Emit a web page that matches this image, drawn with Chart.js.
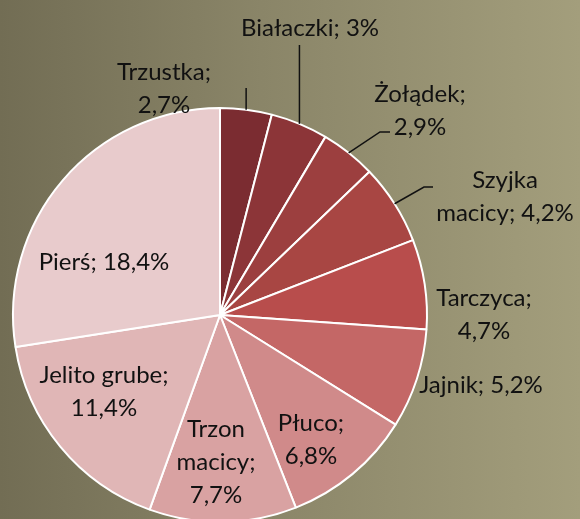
<!DOCTYPE html>
<html>
<head>
<meta charset="utf-8">
<script src="https://cdn.jsdelivr.net/npm/chart.js@4"></script>
<style>
  html, body { margin: 0; padding: 0; }
  body { width: 580px; height: 519px; overflow: hidden;
    background: linear-gradient(90deg, #726d54 0%, #8a8568 45%, #a39e7c 100%); }
  canvas { display: block; }
</style>
</head>
<body>
<canvas id="pie" width="580" height="519"></canvas>
<script>
const categories = ["Trzustka", "Białaczki", "Żołądek", "Szyjka macicy", "Tarczyca",
  "Jajnik", "Płuco", "Trzon macicy", "Jelito grube", "Pierś"];
const shares = [2.7, 3, 2.9, 4.2, 4.7, 5.2, 6.8, 7.7, 11.4, 18.4];

const sliceColors = ["#7b2c31", "#8c3538", "#9c3f3f", "#a84643", "#b84d4c",
  "#c46766", "#d08a8a", "#d9a2a2", "#e0b6b6", "#e8cbcc"];

// label placement, relative to the pie centre (px)
const labelSpots = [[-56, -226], [90, -287], [200, -204], [285, -118], [264, 0],
  [261, 70], [91, 125], [-4, 147], [-116, 77], [-116, -53]];
// word index after which a line break goes
const labelBreaks = [[0], [], [0], [0], [0], [], [0], [0, 1], [1], []];
// leader line points after the edge point (null x = keep edge x)
const leaders = [[[null, -227]], [[null, -270]], [[160, -183], [170, -183]],
  [[204, -128], [213, -128]], null, null, null, null, null, null];

const fmt = v => String(v).replace(".", ",") + "%";

const sliceLabels = {
  id: "sliceLabels",
  afterDatasetsDraw(chart) {
    const ctx = chart.ctx;
    const arcs = chart.getDatasetMeta(0).data;
    ctx.save();
    ctx.font = "24px Lato";
    ctx.fillStyle = "#111";
    ctx.strokeStyle = "#111";
    ctx.lineWidth = 1.5;
    ctx.textAlign = "center";
    ctx.textBaseline = "middle";
    arcs.forEach((arc, i) => {
      const p = arc.getProps(["x", "y", "startAngle", "endAngle", "outerRadius"], true);
      const mid = (p.startAngle + p.endAngle) / 2;
      const ex = p.x + p.outerRadius * Math.cos(mid);
      const ey = p.y + p.outerRadius * Math.sin(mid);
      if (leaders[i]) {
        ctx.beginPath();
        ctx.moveTo(ex, ey);
        leaders[i].forEach(pt => ctx.lineTo(pt[0] === null ? ex : p.x + pt[0], p.y + pt[1]));
        ctx.stroke();
      }
      const words = (categories[i] + "; " + fmt(shares[i])).split(" ");
      const lines = [];
      let cur = [];
      words.forEach((w, k) => {
        cur.push(w);
        if (labelBreaks[i].includes(k)) { lines.push(cur.join(" ")); cur = []; }
      });
      if (cur.length) lines.push(cur.join(" "));
      const lh = 33;
      const cx = p.x + labelSpots[i][0];
      const cy = p.y + labelSpots[i][1];
      lines.forEach((t, k) => {
        ctx.fillText(t, cx, cy + (k - (lines.length - 1) / 2) * lh);
      });
    });
    ctx.restore();
  }
};

new Chart(document.getElementById("pie"), {
  type: "pie",
  data: {
    labels: categories,
    datasets: [{
      data: shares,
      backgroundColor: sliceColors,
      borderColor: "#ffffff",
      borderWidth: 2,
      radius: 207
    }]
  },
  options: {
    responsive: false,
    animation: false,
    layout: { padding: { left: 13, right: 153, top: 111, bottom: 0 } },
    plugins: { legend: { display: false }, tooltip: { enabled: false } }
  },
  plugins: [sliceLabels]
});
</script>
</body>
</html>
